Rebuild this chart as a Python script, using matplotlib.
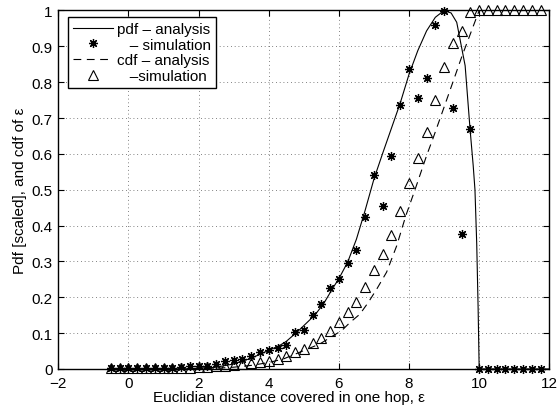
import matplotlib
matplotlib.use("Agg")
import matplotlib.pyplot as plt

plt.rcParams["font.family"] = ["Liberation Sans", "DejaVu Sans"]
plt.rcParams["font.size"] = 11

# simulation bins (histogram centres)
x_sim = [-0.5, -0.25, 0.0, 0.25, 0.5, 0.75, 1.0, 1.25, 1.5, 1.75,
         2.0, 2.25, 2.5, 2.75, 3.0, 3.25, 3.5, 3.75, 4.0, 4.25,
         4.5, 4.75, 5.0, 5.25, 5.5, 5.75, 6.0, 6.25, 6.5, 6.75,
         7.0, 7.25, 7.5, 7.75, 8.0, 8.25, 8.5, 8.75, 9.0, 9.25,
         9.5, 9.75, 10.0, 10.25, 10.5, 10.75, 11.0, 11.25, 11.5, 11.75]
pdf_sim = [0.003, 0.003, 0.003, 0.003, 0.003, 0.003, 0.004, 0.004, 0.006, 0.008,
           0.009, 0.009, 0.014, 0.023, 0.025, 0.028, 0.037, 0.046, 0.053, 0.059,
           0.067, 0.104, 0.110, 0.150, 0.181, 0.226, 0.250, 0.295, 0.333, 0.425,
           0.542, 0.455, 0.593, 0.737, 0.837, 0.756, 0.812, 0.960, 0.999, 0.728,
           0.377, 0.669, 0.0, 0.0, 0.0, 0.0, 0.0, 0.0, 0.0, 0.0]
cdf_sim = [0.002, 0.002, 0.002, 0.002, 0.002, 0.002, 0.002, 0.003, 0.003, 0.004,
           0.005, 0.006, 0.007, 0.008, 0.010, 0.013, 0.016, 0.020, 0.023, 0.028,
           0.036, 0.047, 0.056, 0.073, 0.087, 0.107, 0.130, 0.158, 0.188, 0.228,
           0.277, 0.321, 0.374, 0.442, 0.519, 0.588, 0.662, 0.750, 0.842, 0.908,
           0.942, 0.997, 1.0, 1.0, 1.0, 1.0, 1.0, 1.0, 1.0, 1.0]

# analytical curves
x_pdf = [-0.5, 1.5, 2.0, 2.5, 3.0, 3.5, 4.0, 4.3, 4.5, 4.83, 5.32, 5.57, 5.83,
         6.0, 6.25, 6.5, 6.75, 7.0, 7.25, 7.5, 7.75, 8.0, 8.25, 8.5, 8.75, 9.0,
         9.2, 9.36, 9.6, 9.74, 9.83, 9.88, 9.93, 9.97, 10.0, 12.0]
y_pdf = [0.0, 0.0, 0.002, 0.005, 0.014, 0.03, 0.052, 0.065, 0.077, 0.105, 0.151, 0.183, 0.226,
         0.252, 0.298, 0.362, 0.443, 0.530, 0.602, 0.672, 0.742, 0.822, 0.888, 0.943, 0.981, 1.0,
         0.993, 0.967, 0.846, 0.669, 0.567, 0.50, 0.35, 0.17, 0.0, 0.0]
x_cdf = [-0.5, 2.0, 2.5, 3.0, 3.5, 4.0, 4.42, 4.89, 5.46, 5.84, 6.08, 6.32, 6.6,
         6.84, 7.08, 7.36, 7.65, 7.91, 8.17, 8.5, 8.69, 8.98, 9.25, 9.5, 9.75, 10.0, 12.0]
y_cdf = [0.0, 0.001, 0.002, 0.005, 0.010, 0.018, 0.028, 0.047, 0.070, 0.093, 0.107, 0.130, 0.153,
         0.186, 0.223, 0.270, 0.344, 0.428, 0.500, 0.595, 0.645, 0.725, 0.800, 0.870, 0.935, 1.0, 1.0]

labels = ["pdf \u2013 analysis", "   \u2013 simulation", "cdf \u2013 analysis", "   \u2013simulation"]

fig = plt.figure(figsize=(5.57, 4.10), dpi=100)
ax = fig.add_axes([0.1047, 0.0976, 0.8815, 0.8744])

ax.plot(x_pdf, y_pdf, color="black", linewidth=0.8, label=labels[0])
ax.plot(x_sim, pdf_sim, linestyle="none", marker=(8, 2, 0), markersize=6.5,
        markeredgewidth=0.9, color="black", clip_on=False, label=labels[1])
ax.plot(x_cdf, y_cdf, color="black", linewidth=0.8, linestyle="--", dashes=(7, 5), label=labels[2])
ax.plot(x_sim, cdf_sim, linestyle="none", marker="^", markersize=7, markerfacecolor="none",
        markeredgecolor="black", markeredgewidth=0.8, clip_on=False, label=labels[3])

ax.set_xlim(-2, 12)
ax.set_ylim(0, 1)
ax.set_xticks([-2, 0, 2, 4, 6, 8, 10, 12])
ax.set_yticks([0, 0.1, 0.2, 0.3, 0.4, 0.5, 0.6, 0.7, 0.8, 0.9, 1])
ax.set_yticklabels(["0", "0.1", "0.2", "0.3", "0.4", "0.5", "0.6", "0.7", "0.8", "0.9", "1"])
ax.tick_params(direction="in", top=True, right=True, length=4, width=0.8)
ax.tick_params(axis="x", pad=5)
ax.tick_params(axis="y", pad=4)
ax.grid(True, color="0.35", linestyle=(0, (1, 3.5)), linewidth=0.6)
for s in ax.spines.values():
    s.set_linewidth(1.0)

ax.set_xlabel("Euclidian distance covered in one hop, \u03b5")
ax.xaxis.set_label_coords(0.47, -0.058, transform=ax.transAxes)
ax.xaxis.label.set_verticalalignment("top")
ax.set_ylabel("Pdf [scaled], and cdf of \u03b5", labelpad=3)

leg = ax.legend(loc="upper left", bbox_to_anchor=(0.02, 0.982), borderaxespad=0,
                fancybox=False, framealpha=1, edgecolor="black", handlelength=2.6,
                handletextpad=0.25, labelspacing=0.1, borderpad=0.35)
leg.get_frame().set_linewidth(1.0)

fig.savefig("out.png", dpi=100)
